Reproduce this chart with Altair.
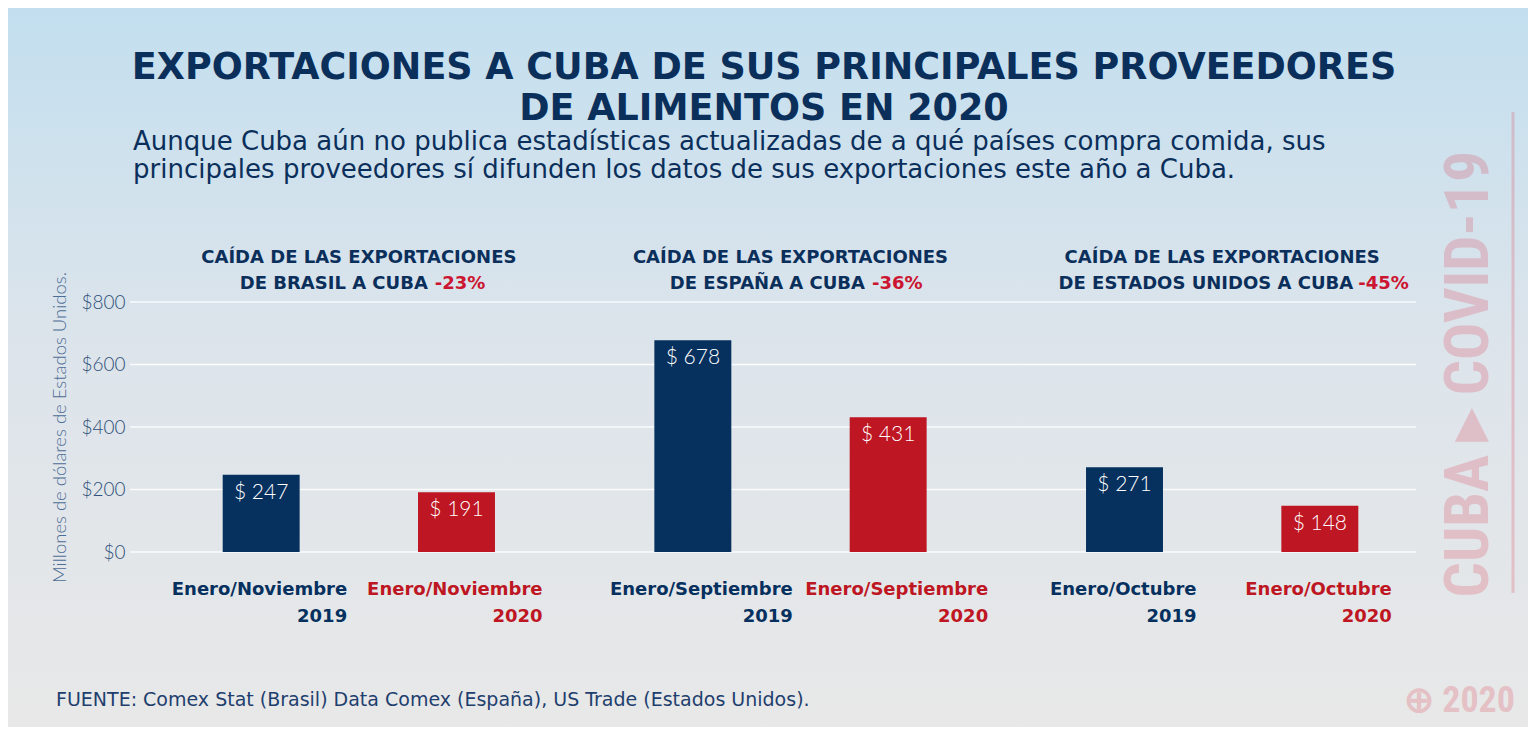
import altair as alt
import pandas as pd

# ---------------- data ----------------
GROUPS = ["Brasil", "España", "Estados Unidos"]
YEARS = ["2019", "2020"]
PERIODS = ["Enero/Noviembre", "Enero/Septiembre", "Enero/Octubre"]
VALUES_2019 = [247, 678, 271]
VALUES_2020 = [191, 431, 148]
HEADER_LINE1 = ["CAÍDA DE LAS EXPORTACIONES"] * 3
HEADER_LINE2 = ["DE BRASIL A CUBA", "DE ESPAÑA A CUBA", "DE ESTADOS UNIDOS A CUBA"]
CHANGES = ["-23%", "-36%", "-45%"]
Y_TICKS = [0, 200, 400, 600, 800]

TITLE_LINES = ["EXPORTACIONES A CUBA DE SUS PRINCIPALES PROVEEDORES", "DE ALIMENTOS EN 2020"]
SUBTITLE_LINES = [
    "Aunque Cuba aún no publica estadísticas actualizadas de a qué países compra comida,  sus",
    "principales proveedores sí difunden los datos de sus exportaciones este año a Cuba.",
]
SOURCE = "FUENTE:  Comex Stat (Brasil) Data Comex (España), US Trade (Estados Unidos)."
Y_TITLE = "Millones de dólares de Estados Unidos."
WATERMARK = "CUBA ▸ COVID-19"
STAMP = "⊕ 2020"

# ---------------- styles ----------------
NAVY = "#06305e"
RED = "#be1622"
RED_TXT = "#cc1530"
TXT = "#0b2f5b"
AXIS_TXT = "#2f5079"
PINK = "#dc2840"
FONT_B = "DejaVu Sans"
FONT_COND = "Roboto Condensed, Roboto"
W, H = 1295, 250
PAD = {"left": 135, "top": 294, "right": 90, "bottom": 175}

rows = []
for g, p, v19, v20 in zip(GROUPS, PERIODS, VALUES_2019, VALUES_2020):
    rows.append({"group": g, "year": YEARS[0], "period": p, "value": v19})
    rows.append({"group": g, "year": YEARS[1], "period": p, "value": v20})
df = pd.DataFrame(rows)
df["label"] = "$ " + df["value"].astype(str)

hdr = pd.DataFrame({"group": GROUPS, "l1": HEADER_LINE1, "l2": HEADER_LINE2, "chg": CHANGES})
ticks = pd.DataFrame({"value": Y_TICKS})
one = pd.DataFrame({"k": [0]})

xenc = alt.X("group:N", sort=GROUPS, axis=None,
             scale=alt.Scale(paddingInner=0, paddingOuter=0))
xoff = alt.XOffset("year:N", sort=YEARS,
                   scale=alt.Scale(paddingInner=0.606, paddingOuter=0.408))
yscale = alt.Scale(domain=[0, 800], nice=False)
YAXIS = alt.Axis(values=Y_TICKS, labelExpr="'$' + datum.value", domain=False, ticks=False,
                 grid=False, offset=13, labelPadding=5, labelFont="Lato", labelFontWeight=300,
                 labelFontSize=19, labelColor=AXIS_TXT, title=Y_TITLE, titleFont="Lato",
                 titleFontWeight=300, titleFontSize=18.5, titleColor="#4d6d95", titlePadding=11,
                 zindex=1)
yenc = alt.Y("value:Q", scale=yscale, axis=YAXIS)
cenc = alt.Color("year:N", scale=alt.Scale(domain=YEARS, range=[NAVY, RED]), legend=None)

# background gradient
bg = alt.Chart(one).mark_rect(
    fill=alt.Gradient(
        gradient="linear",
        stops=[alt.GradientStop(color="#c3dfef", offset=0),
               alt.GradientStop(color="#dce4eb", offset=0.45),
               alt.GradientStop(color="#e8e8e8", offset=1)],
        x1=0, x2=0, y1=0, y2=1),
).encode(
    x=alt.value(-PAD["left"]), x2=alt.value(W + PAD["right"]),
    y=alt.value(-PAD["top"]), y2=alt.value(H + PAD["bottom"]),
)

grid = alt.Chart(ticks).mark_rule(color="#ffffff", strokeWidth=1.5, opacity=0.85).encode(
    y=yenc, x=alt.value(-13), x2=alt.value(1273),
)

bars = alt.Chart(df).mark_bar().encode(x=xenc, xOffset=xoff, y=yenc, color=cenc)

bar_labels = alt.Chart(df).mark_text(
    color="white", font="Lato", fontWeight=300, fontSize=21, baseline="alphabetic", dy=24,
).encode(x=xenc, xOffset=xoff, y=yenc, text="label:N")

hdr1 = alt.Chart(hdr).mark_text(
    font=FONT_B, fontWeight="bold", fontSize=18, color=TXT, baseline="alphabetic",
).encode(x=xenc, y=alt.value(-39), text="l1:N")

layers = [bg, grid, bars, bar_labels, hdr1]

LABEL_DX = [86, 100, 72]
HDR_NAVY_DX = [69, 74.5, 131]
HDR_RED_DX = [76, 81.5, 136]
for i, g in enumerate(GROUPS):
    sub = df[df["group"] == g]
    hsub = hdr[hdr["group"] == g]
    for field, yv in (("period", 293), ("year", 320)):
        layers.append(alt.Chart(sub).mark_text(
            font=FONT_B, fontWeight="bold", fontSize=18, align="right", baseline="alphabetic",
            dx=LABEL_DX[i],
        ).encode(x=xenc, xOffset=xoff, y=alt.value(yv), text=f"{field}:N", color=cenc))
    layers.append(alt.Chart(hsub).mark_text(
        font=FONT_B, fontWeight="bold", fontSize=18, color=TXT, align="right",
        baseline="alphabetic", dx=HDR_NAVY_DX[i],
    ).encode(x=xenc, y=alt.value(-13), text="l2:N"))
    layers.append(alt.Chart(hsub).mark_text(
        font=FONT_B, fontWeight="bold", fontSize=18, color=RED_TXT, align="left",
        baseline="alphabetic", dx=HDR_RED_DX[i],
    ).encode(x=xenc, y=alt.value(-13), text="chg:N"))

# titles
for line, yv in zip(TITLE_LINES, (-223, -182)):
    layers.append(alt.Chart(one).mark_text(
        font=FONT_B, fontWeight="bold", fontSize=36.5, color=TXT, align="center", baseline="alphabetic",
        text=line,
    ).encode(x=alt.value(621), y=alt.value(yv)))
for line, yv in zip(SUBTITLE_LINES, (-152, -124)):
    layers.append(alt.Chart(one).mark_text(
        font=FONT_B, fontSize=26, color=TXT, align="left", baseline="alphabetic", text=line,
    ).encode(x=alt.value(-10), y=alt.value(yv)))

layers.append(alt.Chart(one).mark_text(
    font=FONT_B, fontSize=19, color="#1e3f6e", align="left", baseline="alphabetic", text=SOURCE,
).encode(x=alt.value(-87), y=alt.value(404)))

# watermark
layers.append(alt.Chart(one).mark_text(
    font=FONT_COND, fontWeight="bold", fontSize=62,
    color=PINK, opacity=0.2, angle=270, align="center", baseline="middle", text=WATERMARK,
).encode(x=alt.value(1326), y=alt.value(72)))
layers.append(alt.Chart(one).mark_rule(color=PINK, opacity=0.2, strokeWidth=3).encode(
    x=alt.value(1370), y=alt.value(-190), y2=alt.value(291)))
layers.append(alt.Chart(one).mark_text(
    font=FONT_COND, fontWeight="bold", fontSize=36,
    color=PINK, opacity=0.2, align="right", baseline="alphabetic", text=STAMP,
).encode(x=alt.value(1372), y=alt.value(410)))

chart = alt.layer(*layers).properties(
    width=W, height=H, padding=PAD, autosize="none", background="#e8e8e8",
).configure_view(strokeWidth=0)

chart.save("out.html", embed_options={"renderer": "svg", "actions": False})
